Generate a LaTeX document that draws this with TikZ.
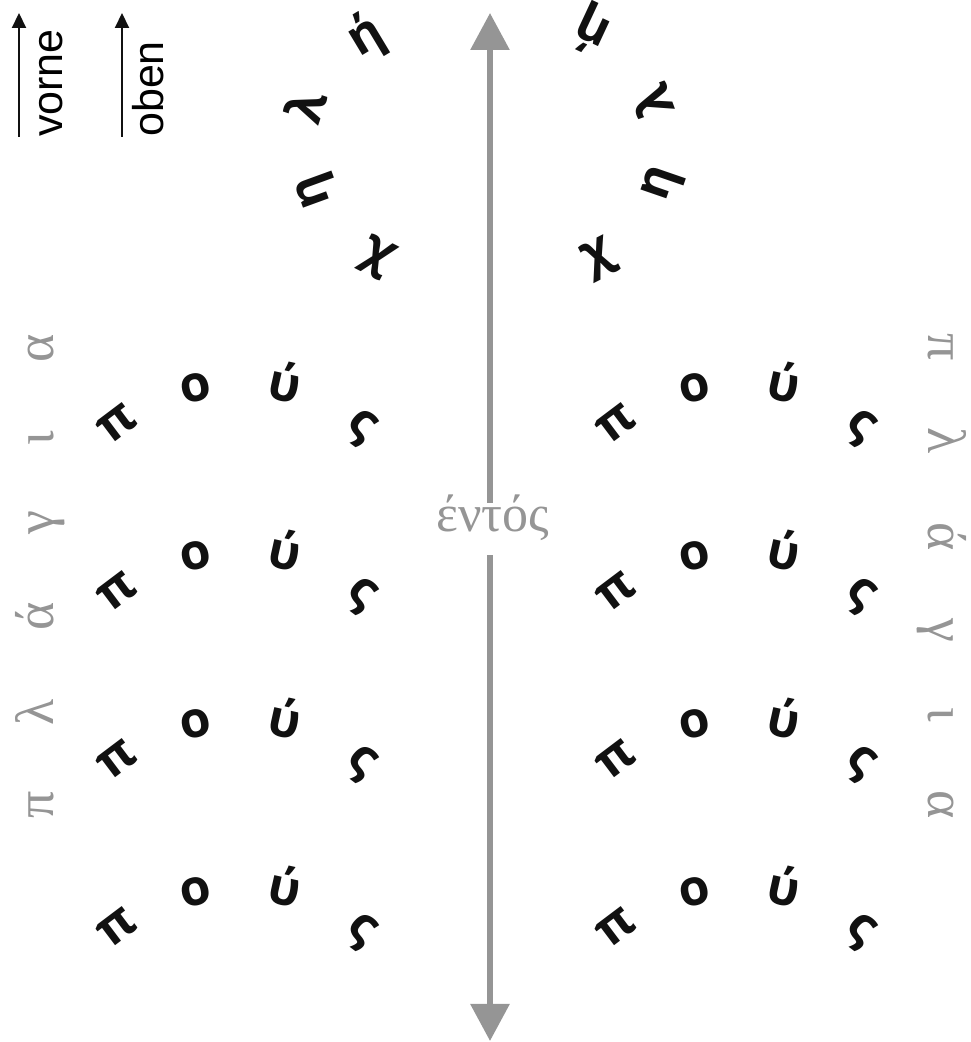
\documentclass[tikz,border=0pt]{standalone}
\usepackage{fontspec}
\usepackage{tikz}
\usetikzlibrary{arrows.meta, positioning, calc}
\setsansfont{Liberation Sans}
\newfontfamily\hooffont{Open Sans}
\newfontfamily\grayfont{Liberation Serif}
\definecolor{axgray}{HTML}{959595}
\definecolor{ink}{HTML}{111111}

\begin{document}
\begin{tikzpicture}[
  x=1pt, y=1pt,
  hoof/.style={font=\hooffont\bfseries\fontsize{50}{50}\selectfont, text=ink,
               inner sep=0pt, text height=27pt, text depth=0pt, anchor=center},
  side/.style={font=\grayfont\fontsize{54}{54}\selectfont, text=axgray, inner sep=0pt, anchor=base},
  dirlab/.style={font=\sffamily\fontsize{43}{43}\selectfont, rotate=90,
                 anchor=base west, inner sep=0pt},
  dir/.style={ink, line width=2pt, -{Triangle[length=15pt,width=14pt]}},
  axis/.style={axgray, line width=6pt, -{Triangle[length=37pt,width=38pt]}},
]
\useasboundingbox (0,0) rectangle (971,1042);

% ---------- direction keys (top left) ----------
\coordinate (vorne-s) at (19,905);
\coordinate (vorne-e) at (19,1029);
\coordinate (oben-s) at (122,905);
\coordinate (oben-e) at (122,1029);
\draw[dir] (vorne-s) -- (vorne-e);
\draw[dir] (oben-s) -- (oben-e);
\node[dirlab] (vorne) at ($(vorne-s)+(43,0)$) {vorne};
\node[dirlab] (oben) at ($(oben-s)+(41,0)$) {oben};

% ---------- midline ----------
\coordinate (ax-top) at (490,1029);
\coordinate (ax-bot) at (490,1);
\node[side, font=\grayfont\fontsize{52}{52}\selectfont,
      text height=29pt, text depth=23pt] (entos) at (493,510) {έντός};
\draw[axis] (entos.north -| ax-top) -- (ax-top);
\draw[axis] (entos.south -| ax-bot) -- (ax-bot);

% ---------- side words ----------
\foreach \g/\y [count=\i] in {π/237, λ/330, ά/426, γ/519, ι/604, α/694}
  \node[side, rotate=90] (plag-L\i) at (53,\y) {\g};
\foreach \g/\y [count=\i] in {π/695, λ/601, ά/505, γ/412, ι/327, α/237}
  \node[side, rotate=-90] (plag-R\i) at (928,\y) {\g};

% ---------- hooves (top) ----------
\coordinate (hoof-L) at (433,894);
\coordinate (hoof-R) at (540,900);
\foreach \ch/\a [count=\i] in {χ/243, η/200, λ/162, ή/121}
  \node[hoof, rotate=\a-90] (hoof-L\i) at ($(hoof-L)+(\a:129)$) {\ch};
\foreach \ch/\a [count=\i] in {χ/297, η/341, λ/20, ή/65}
  \node[hoof, rotate=\a+90] (hoof-R\i) at ($(hoof-R)+(\a:125)$) {\ch};

% ---------- feet: four rows each side ----------
\foreach \row/\cy in {1/455, 2/287, 3/119, 4/-49} {
  \foreach \side/\cx in {L/240, R/739} {
    \coordinate (pous-\side\row) at (\cx,\cy);
    \foreach \ch/\a [count=\i] in {π/127, ο/102.5, ύ/77.5, ς/53}
      \node[hoof, rotate=\a-90] (pous-\side\row-\i) at ($(pous-\side\row)+(\a:204)$) {\ch};
  }
}

\end{tikzpicture}
\end{document}
